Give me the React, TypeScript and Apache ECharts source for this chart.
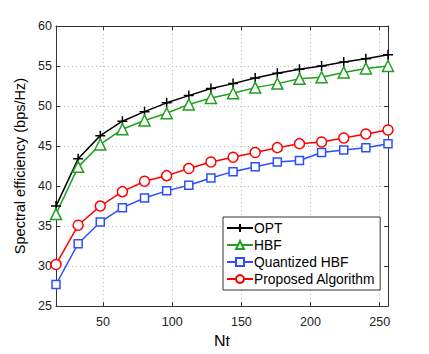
import React, { useEffect, useRef } from "react";
import * as echarts from "echarts";

const nt = [16, 32, 48, 64, 80, 96, 112, 128, 144, 160, 176, 192, 208, 224, 240, 256];
const opt = [37.5, 43.4, 46.3, 48.1, 49.3, 50.4, 51.3, 52.2, 52.8, 53.5, 54.1, 54.6, 55.0, 55.5, 55.9, 56.4];
const hbf = [36.5, 42.4, 45.2, 47.1, 48.2, 49.1, 50.2, 51.0, 51.6, 52.3, 52.8, 53.4, 53.6, 54.2, 54.7, 55.0];
const quantized = [27.7, 32.8, 35.5, 37.3, 38.5, 39.4, 40.1, 41.0, 41.8, 42.4, 43.0, 43.2, 44.2, 44.5, 44.8, 45.3];
const proposed = [30.2, 35.1, 37.5, 39.3, 40.6, 41.3, 42.2, 43.0, 43.6, 44.2, 44.8, 45.3, 45.5, 46.0, 46.5, 47.0];
const xTicks = [50, 100, 150, 200, 250];
const seriesNames = ["OPT", "HBF", "Quantized HBF", "Proposed Algorithm"];

const FONT = "Liberation Sans, Arial, Helvetica, sans-serif";
const PLUS = "path://M0,5L10,5M5,0L5,10";

export default function App() {
  const ref = useRef<HTMLDivElement>(null);
  useEffect(() => {
    if (!ref.current) return;
    const chart = echarts.init(ref.current, undefined, { renderer: "svg" });
    const mk = (name: string, data: number[], color: string, symbol: string, size: number) => ({
      name,
      type: "line",
      xAxisIndex: 0,
      yAxisIndex: 0,
      data: nt.map((x, i) => [x, data[i]]),
      symbol,
      symbolSize: size,
      showAllSymbol: true,
      color,
      lineStyle: { color, width: 1.5 },
      itemStyle: { color: "#fff", borderColor: color, borderWidth: 1.5 },
      z: 3,
    });
    chart.setOption({
      animation: false,
      backgroundColor: "#fff",
      textStyle: { fontFamily: FONT },
      grid: { left: 56, right: 41, top: 26, bottom: 40, show: false },
      legend: {
        orient: "vertical",
        left: 223,
        top: 217,
        data: seriesNames,
        backgroundColor: "#fff",
        borderColor: "#333",
        borderWidth: 1,
        borderRadius: 0,
        padding: [4, 5, 4, 3],
        itemGap: 3,
        itemWidth: 26,
        itemHeight: 10,
        textStyle: { fontFamily: FONT, fontSize: 13.8, color: "#000", padding: [0, 0, 0, -4] },
      },
      xAxis: [
        {
          type: "value",
          min: 16,
          max: 256,
          name: "Nt",
          nameLocation: "middle",
          nameGap: 22,
          nameTextStyle: { fontFamily: FONT, fontSize: 16, color: "#000" },
          axisLine: { show: true, onZero: false, lineStyle: { color: "#333", width: 1 } },
          axisTick: { show: true, inside: true, length: 4, customValues: xTicks, lineStyle: { color: "#333" } },
          axisLabel: { customValues: xTicks, fontFamily: FONT, fontSize: 12.5, color: "#222", margin: 9 },
          splitLine: { show: true, lineStyle: { type: [1, 3], color: "#bbb" } },
        },
        {
          type: "value",
          min: 16,
          max: 256,
          position: "top",
          axisLine: { show: true, onZero: false, lineStyle: { color: "#333", width: 1 } },
          axisTick: { show: true, inside: true, length: 4, customValues: xTicks, lineStyle: { color: "#333" } },
          axisLabel: { show: false },
          splitLine: { show: false },
        },
      ],
      yAxis: [
        {
          type: "value",
          min: 25,
          max: 60,
          interval: 5,
          name: "Spectral efficiency (bps/Hz)",
          nameLocation: "middle",
          nameGap: 23,
          nameTextStyle: { fontFamily: FONT, fontSize: 14.5, color: "#000" },
          axisLine: { show: true, onZero: false, lineStyle: { color: "#333", width: 1 } },
          axisTick: { show: true, inside: true, length: 4, lineStyle: { color: "#333" } },
          axisLabel: { fontFamily: FONT, fontSize: 12.5, color: "#222", margin: 4 },
          splitLine: { show: true, lineStyle: { type: [1, 3], color: "#bbb" } },
        },
        {
          type: "value",
          min: 25,
          max: 60,
          interval: 5,
          position: "right",
          axisLine: { show: true, onZero: false, lineStyle: { color: "#333", width: 1 } },
          axisTick: { show: true, inside: true, length: 4, lineStyle: { color: "#333" } },
          axisLabel: { show: false },
          splitLine: { show: false },
        },
      ],
      series: [
        mk(seriesNames[0], opt, "#000000", PLUS, 10),
        mk(seriesNames[1], hbf, "#1fa01f", "triangle", 11),
        mk(seriesNames[2], quantized, "#2b4eff", "rect", 8),
        mk(seriesNames[3], proposed, "#ff0000", "circle", 10),
      ],
    });
    return () => chart.dispose();
  }, []);
  return <div ref={ref} style={{ width: 429, height: 354, margin: -8 }} />;
}
